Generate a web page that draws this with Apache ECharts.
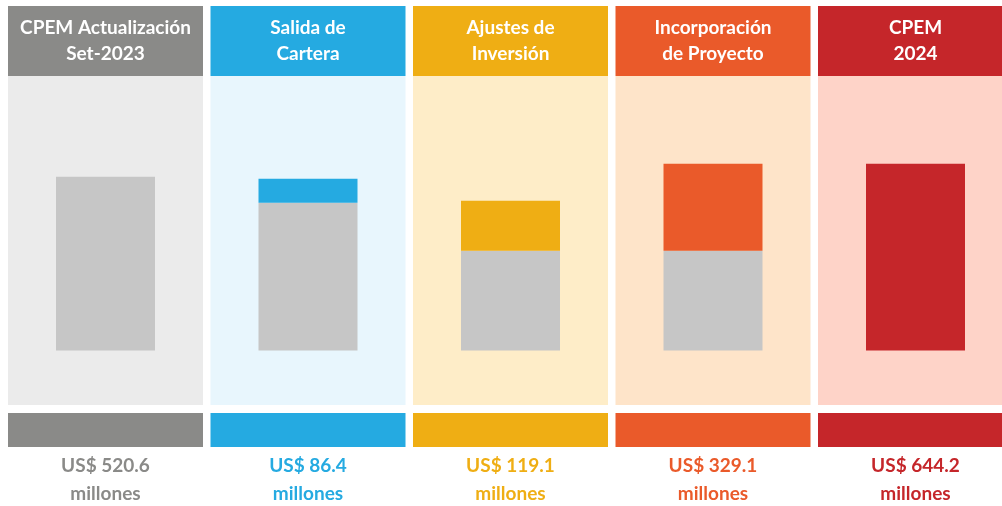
<!DOCTYPE html>
<html><head><meta charset="utf-8">
<script src="https://cdn.jsdelivr.net/npm/echarts@6/dist/echarts.min.js"></script>
<style>html,body{margin:0;padding:0;background:#fff}#c{width:1002px;height:506px}</style>
</head><body><div id="c"></div>
<script>
// Panel titles (two lines each)
const categories = ['CPEM Actualización\nSet-2023', 'Salida de\nCartera', 'Ajustes de\nInversión', 'Incorporación\nde Proyecto', 'CPEM\n2024'];
// Amounts shown under each panel (US$ millones)
const amounts = [520.6, 86.4, 119.1, 329.1, 644.2];
// Drawn bar heights (same units, panel 1 = 520.6)
const baseHeights = [520.6, 442.8, 299.2, 299.2, 0];
const stepHeights = [0, 71.8, 149.6, 260.3, 559.5];

const headColors = ['#8a8a88', '#25aae1', '#efae14', '#ea5a2a', '#c5262a'];
const bgColors = ['#ebebeb', '#e8f6fd', '#feedc8', '#fee4c9', '#fed3c8'];
const greyBar = '#c6c6c6';
const FONT = 'Lato';

const panelLeft = 8, panelW = 195, gap = 7.5;
const grids = [], xAxes = [], yAxes = [], series = [], graphics = [];
categories.forEach((c, i) => {
  const left = panelLeft + i * (panelW + gap);
  grids.push({left: left, width: panelW, top: 76, height: 329, show: true, backgroundColor: bgColors[i], borderWidth: 0, containLabel: false, outerBoundsMode: 'none'});
  xAxes.push({type: 'category', gridIndex: i, data: [c], show: false});
  yAxes.push({type: 'value', gridIndex: i, min: -163, max: 822.6, show: false});
  series.push({type: 'bar', xAxisIndex: i, yAxisIndex: i, stack: 's' + i, barWidth: 99,
    data: [baseHeights[i]], itemStyle: {color: greyBar}, silent: true});
  series.push({type: 'bar', xAxisIndex: i, yAxisIndex: i, stack: 's' + i, barWidth: 99,
    data: [stepHeights[i]], itemStyle: {color: headColors[i]}, silent: true});
  // header
  graphics.push({type: 'rect', shape: {x: left, y: 6, width: panelW, height: 70}, style: {fill: headColors[i]}, silent: true});
  graphics.push({type: 'text', x: left + panelW / 2, y: 41, style: {text: c, fill: '#fff', font: 'bold 19px ' + FONT, align: 'center', verticalAlign: 'middle', lineHeight: 26}, silent: true});
  // bottom strip
  graphics.push({type: 'rect', shape: {x: left, y: 413, width: panelW, height: 34}, style: {fill: headColors[i]}, silent: true});
  graphics.push({type: 'text', x: left + panelW / 2, y: 480, style: {text: 'US$ ' + amounts[i].toFixed(1) + '\nmillones', fill: headColors[i], font: 'bold 19px ' + FONT, align: 'center', verticalAlign: 'middle', lineHeight: 28}, silent: true});
});

const chart = echarts.init(document.getElementById('c'), null, {renderer: 'canvas'});
chart.setOption({animation: false, grid: grids, xAxis: xAxes, yAxis: yAxes, series: series, graphic: graphics});
</script></body></html>
